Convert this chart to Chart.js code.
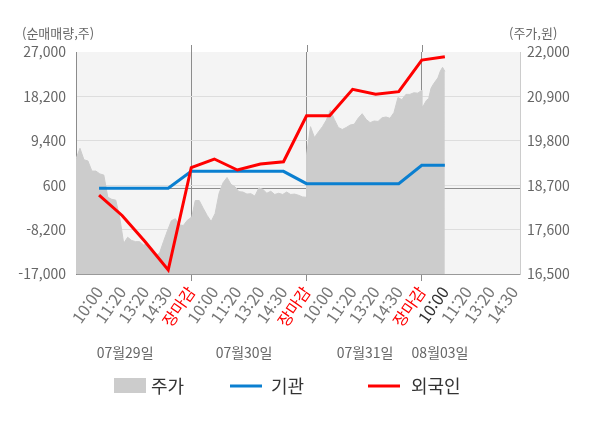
<!DOCTYPE html>
<html lang="ko">
<head>
    <meta charset="UTF-8">
    <title>순매매량 / 주가</title>
    <style>
        html, body {
            margin: 0;
            padding: 0;
            background: #ffffff;
        }
        .chart-box {
            position: relative;
            width: 600px;
            height: 428px;
        }
    </style>
    <script src="https://cdn.jsdelivr.net/npm/chart.js"></script>
</head>
<body>
    <div class="chart-box">
        <canvas id="flowChart" width="600" height="428"></canvas>
    </div>

    <script>
        // x축 눈금 (하루 5칸, 마지막 날은 장마감 전)
        const timeLabels = [
            '10:00', '11:20', '13:20', '14:30', '장마감',
            '10:00', '11:20', '13:20', '14:30', '장마감',
            '10:00', '11:20', '13:20', '14:30', '장마감',
            '10:00', '11:20', '13:20', '14:30'
        ];
        const dateLabels = ['07월29일', '07월30일', '07월31일', '08월03일'];
        const currentTick = 15; // 08월03일 10:00

        const leftTicks = [-17000, -8200, 600, 9400, 18200, 27000];
        const rightTicks = [16500, 17600, 18700, 19800, 20900, 22000];

        // 순매매량 (주), 눈금 1~16 위치
        const institution = [0, 0, 0, 0, 3350, 3350, 3350, 3350, 3350, 900, 900, 900, 900, 900, 4540, 4540];
        const foreigner = [-1350, -5400, -10600, -16200, 4100, 5790, 3610, 4800, 5250, 14370, 14370, 19600, 18610, 19130, 25410, 26060];

        // 주가 (원), 하루 단위
        const priceDay1 = [19350, 19614, 19330, 19300, 19050, 19050, 18980, 18950, 18400, 18350,
                           18330, 17900, 17261, 17410, 17330, 17302, 17302, 17219, 17240, 17080,
                           16960, 17013, 17300, 17570, 17820, 17870, 17720, 17700, 17830, 17900];
        const priceDay2 = [17850, 18320, 18320, 18130, 17950, 17800, 18000, 18500, 18760, 18890,
                           18720, 18660, 18540, 18530, 18480, 18490, 18430, 18630, 18600, 18500,
                           18550, 18470, 18500, 18470, 18530, 18470, 18480, 18450, 18410, 18400];
        const priceDay3 = [19450, 20150, 19880, 20020, 20150, 20316, 20564, 20330, 20130, 20080,
                           20130, 20192, 20210, 20360, 20470, 20330, 20250, 20290, 20280, 20370,
                           20390, 20357, 20500, 20870, 20820, 20950, 20950, 20990, 20980, 21050];
        const priceDay4 = [20620, 20700, 20800, 20850, 21100, 21200, 21280, 21360, 21520, 21620, 21520];

        const FONT = "'Noto Sans CJK KR', 'Noto Sans', sans-serif";

        function spreadDay(values, from, to) {
            const step = (to - from) / (values.length - 1);
            return values.map((v, i) => ({ x: from + i * step, y: v }));
        }

        const pricePoints = [].concat(
            spreadDay(priceDay1, 0, 5),
            spreadDay(priceDay2, 5, 10),
            spreadDay(priceDay3, 10, 15),
            spreadDay(priceDay4, 15, 16)
        );

        const toPoints = arr => arr.map((v, i) => ({ x: i + 1, y: v }));

        const chartDecor = {
            id: 'chartDecor',
            beforeDraw(chart) {
                const { ctx, chartArea: a } = chart;
                ctx.save();
                ctx.fillStyle = '#f4f4f4';
                ctx.fillRect(a.left, a.top, a.right - a.left, a.bottom - a.top);
                ctx.restore();
            },
            beforeDatasetsDraw(chart) {
                // 0 기준선
                const { ctx, chartArea: a } = chart;
                const y0 = Math.round(chart.scales.y.getPixelForValue(0)) + 0.5;
                ctx.save();
                ctx.strokeStyle = '#8c8c8c';
                ctx.lineWidth = 1;
                ctx.beginPath();
                ctx.moveTo(a.left, y0);
                ctx.lineTo(a.right, y0);
                ctx.stroke();
                ctx.restore();
            },
            afterDraw(chart) {
                const { ctx, chartArea: a } = chart;
                const xs = chart.scales.x;
                ctx.save();

                // 날짜 구분선 윗부분
                ctx.strokeStyle = '#8c8c8c';
                ctx.lineWidth = 1;
                [5, 10, 15].forEach(v => {
                    const px = Math.round(xs.getPixelForValue(v)) + 0.5;
                    ctx.beginPath();
                    ctx.moveTo(px, a.top - 7);
                    ctx.lineTo(px, a.top);
                    ctx.stroke();
                });

                // 축 제목
                ctx.font = '13px ' + FONT;
                ctx.fillStyle = '#666';
                ctx.textBaseline = 'middle';
                ctx.textAlign = 'left';
                ctx.fillText('(순매매량,주)', 22, 33);
                ctx.fillText('(주가,원)', 509, 33);

                // 날짜
                ctx.font = '14px ' + FONT;
                ctx.textAlign = 'center';
                const datePos = [2.13, 7.29, 12.54, 15.79];
                dateLabels.forEach((d, i) => {
                    ctx.fillText(d, xs.getPixelForValue(datePos[i]), 353);
                });

                // 범례
                const ly = 386;
                ctx.font = '18px ' + FONT;
                ctx.fillStyle = '#cccccc';
                ctx.fillRect(114, 378, 32, 15);
                ctx.lineWidth = 3;
                ctx.strokeStyle = '#0a7fd0';
                ctx.beginPath();
                ctx.moveTo(230, ly);
                ctx.lineTo(262, ly);
                ctx.stroke();
                ctx.strokeStyle = '#ff0000';
                ctx.beginPath();
                ctx.moveTo(368, ly);
                ctx.lineTo(400, ly);
                ctx.stroke();
                ctx.fillStyle = '#333';
                ctx.textAlign = 'left';
                ctx.fillText('주가', 151, ly);
                ctx.fillText('기관', 271, ly);
                ctx.fillText('외국인', 411, ly);

                ctx.restore();
            }
        };

        const ctx = document.getElementById('flowChart').getContext('2d');
        new Chart(ctx, {
            type: 'line',
            data: {
                datasets: [
                    {
                        label: '외국인',
                        data: toPoints(foreigner),
                        yAxisID: 'y',
                        borderColor: '#ff0000',
                        borderWidth: 3,
                        pointRadius: 0,
                        fill: false,
                        order: 1
                    },
                    {
                        label: '기관',
                        data: toPoints(institution),
                        yAxisID: 'y',
                        borderColor: '#0a7fd0',
                        borderWidth: 3,
                        pointRadius: 0,
                        fill: false,
                        order: 2
                    },
                    {
                        label: '주가',
                        data: pricePoints,
                        yAxisID: 'yR',
                        borderColor: '#cccccc',
                        backgroundColor: '#cccccc',
                        borderWidth: 1,
                        pointRadius: 0,
                        fill: 'start',
                        order: 3
                    }
                ]
            },
            options: {
                responsive: false,
                animation: false,
                layout: { padding: { top: 52, left: 0, right: 0, bottom: 0 } },
                plugins: {
                    legend: { display: false },
                    tooltip: { enabled: false }
                },
                scales: {
                    x: {
                        type: 'linear',
                        position: 'bottom',
                        min: 0,
                        max: 19.26,
                        afterBuildTicks: scale => {
                            scale.ticks = timeLabels.map((_, i) => ({ value: i + 1 }));
                        },
                        afterFit: scale => { scale.height = 154; },
                        border: { color: '#999' },
                        grid: {
                            color: c => (c.tick && c.tick.value % 5 === 0) ? '#8c8c8c' : 'rgba(0,0,0,0)',
                            tickColor: c => (c.tick && c.tick.value % 5 === 0) ? '#8c8c8c' : 'rgba(0,0,0,0)',
                            tickLength: 7
                        },
                        ticks: {
                            autoSkip: false,
                            minRotation: 55,
                            maxRotation: 55,
                            padding: 2,
                            font: { family: FONT, size: 16 },
                            color: c => {
                                if (timeLabels[c.index] === '장마감') return '#ff0000';
                                if (c.index === currentTick) return '#333';
                                return '#777';
                            },
                            callback: (v, i) => timeLabels[i]
                        }
                    },
                    y: {
                        position: 'left',
                        min: -17000,
                        max: 27000,
                        afterBuildTicks: scale => {
                            scale.ticks = leftTicks.map(v => ({ value: v }));
                        },
                        afterFit: scale => { scale.width = 76; },
                        border: { color: '#8c8c8c' },
                        grid: {
                            drawTicks: false,
                            color: c => (c.tick && c.tick.value === 27000) ? 'rgba(0,0,0,0)' : '#dddddd'
                        },
                        ticks: {
                            padding: 10,
                            font: { family: FONT, size: 14 },
                            color: '#666',
                            callback: v => v.toLocaleString('en-US')
                        }
                    },
                    yR: {
                        position: 'right',
                        min: 16500,
                        max: 22000,
                        afterBuildTicks: scale => {
                            scale.ticks = rightTicks.map(v => ({ value: v }));
                        },
                        afterFit: scale => { scale.width = 80; },
                        border: { color: '#cccccc' },
                        grid: { display: false, drawTicks: false },
                        ticks: {
                            padding: 7,
                            font: { family: FONT, size: 14 },
                            color: '#666',
                            callback: v => v.toLocaleString('en-US')
                        }
                    }
                }
            },
            plugins: [chartDecor]
        });
    </script>
</body>
</html>
